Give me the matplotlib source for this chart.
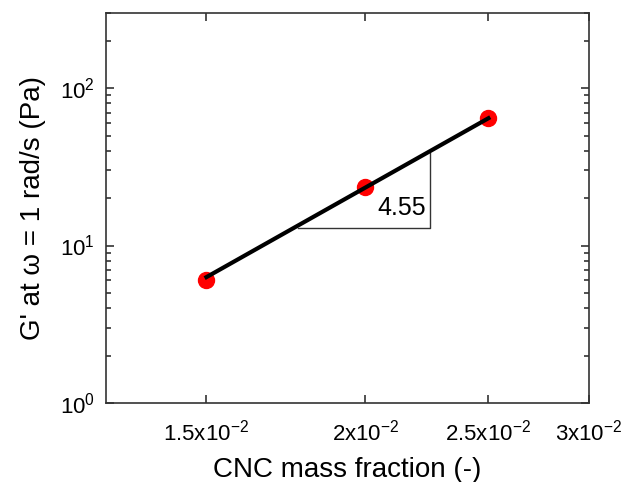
import numpy as np
import matplotlib
matplotlib.use("Agg")
import matplotlib.pyplot as plt
from matplotlib.ticker import FixedLocator, LogLocator, NullLocator

plt.rcParams['font.family'] = ['Liberation Sans', 'DejaVu Sans']
plt.rcParams['mathtext.fontset'] = 'custom'
plt.rcParams['mathtext.rm'] = 'Liberation Sans'
plt.rcParams['mathtext.default'] = 'regular'

# data
cnc = [0.015, 0.020, 0.025]
g_prime = [6.0, 23.5, 65.0]
slope = 4.55
g_at_start = 6.3          # fitted value at first point
tri_x = [0.0177, 0.0225]  # slope triangle corners
tri_y = [12.9, 38.7]

xticks = [0.015, 0.02, 0.025, 0.03]
xtick_labels = [r'1.5x10$^{-2}$', r'2x10$^{-2}$', r'2.5x10$^{-2}$', r'3x10$^{-2}$']
yticks = [1, 10, 100]
ytick_labels = [r'10$^{0}$', r'10$^{1}$', r'10$^{2}$']

fig = plt.figure(figsize=(6.26, 4.82), dpi=100)
ax = fig.add_axes([0.169, 0.164, 0.772, 0.809])

x_fit = np.array([cnc[0], cnc[-1]])
y_fit = g_at_start * (x_fit / cnc[0]) ** slope

ax.plot(cnc, g_prime, 'o', color='red', ms=11.5, zorder=2)
ax.plot(x_fit, y_fit, '-', color='black', lw=3, zorder=3)

# slope triangle
ax.plot([tri_x[0], tri_x[1], tri_x[1]], [tri_y[0], tri_y[0], tri_y[1]],
        color='#333333', lw=1, zorder=1)
ax.text(tri_x[1] * 0.993, tri_y[0] * 1.12, '4.55', fontsize=18,
        ha='right', va='bottom')

ax.set_xscale('log')
ax.set_yscale('log')
ax.set_xlim(0.0125, 0.03)
ax.set_ylim(1, 300)

ax.xaxis.set_major_locator(FixedLocator(xticks))
ax.xaxis.set_minor_locator(NullLocator())
ax.set_xticklabels(xtick_labels)
ax.yaxis.set_major_locator(FixedLocator(yticks))
ax.yaxis.set_minor_locator(LogLocator(base=10, subs=np.arange(2, 10)))
ax.set_yticklabels(ytick_labels)

ax.tick_params(which='both', direction='in', top=True, right=True,
               color='#333333', width=1.2)
ax.tick_params(which='major', length=6, labelsize=16)
ax.tick_params(axis='x', which='major', pad=12)
ax.tick_params(axis='y', which='major', pad=8)
ax.tick_params(which='minor', length=3.5)
for s in ax.spines.values():
    s.set_linewidth(1.2)
    s.set_color('#333333')

ax.set_xlabel('CNC mass fraction (-)', fontsize=20, labelpad=8)
ax.set_ylabel("G' at \u03c9 = 1 rad/s (Pa)", fontsize=20, labelpad=10)

fig.savefig('out.png', dpi=100)
